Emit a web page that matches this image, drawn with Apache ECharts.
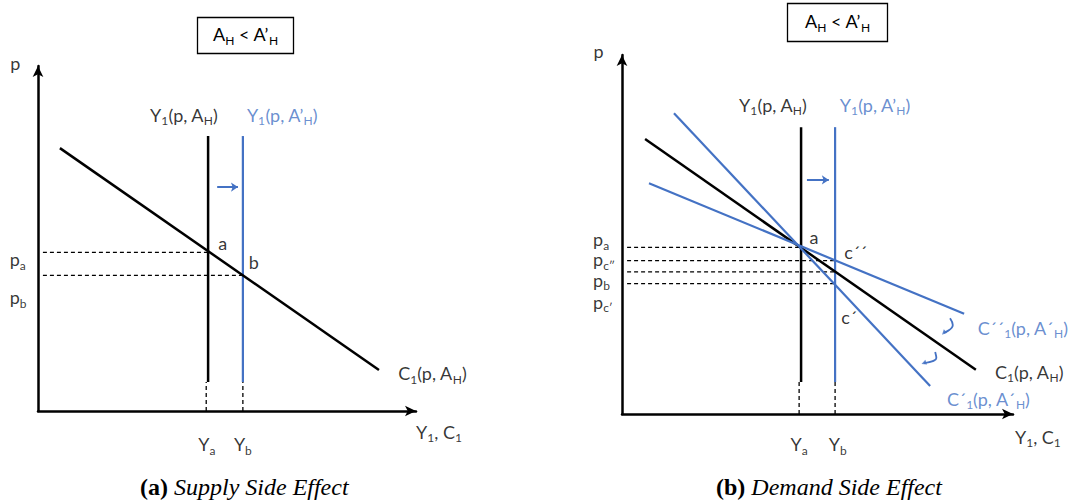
<!DOCTYPE html>
<html>
<head>
<meta charset="utf-8">
<script src="https://cdn.jsdelivr.net/npm/echarts@6/dist/echarts.min.js"></script>
<style>
  html, body { margin: 0; padding: 0; background: #fff; }
  #chart { width: 1069px; height: 503px; }
</style>
</head>
<body>
<div id="chart"></div>
<script>
// ---------- DATA (diagram units, 0..10 on each axis) ----------
// Panel (a): Supply side effect
const aY1Old      = [[4.5, 0.84], [4.5, 7.97]];      // Y1(p, A_H)
const aY1New      = [[5.42, 0.84], [5.42, 7.97]];    // Y1(p, A'_H)
const aC1         = [[0.58, 7.62], [9.02, 1.19]];    // C1(p, A_H)
const aDropYa     = [[4.45, 0], [4.45, 0.84]];
const aDropYb     = [[5.42, 0], [5.42, 0.84]];
const aLevelPa    = [[0.13, 4.6], [4.5, 4.6]];
const aLevelPb    = [[0.13, 3.93], [5.42, 3.93]];
const aShift      = [[4.74, 6.49], [5.29, 6.49]];
const aLabelPts   = [[3.86, 8.58], [6.46, 8.58], [4.89, 4.87], [5.71, 4.32], [-0.75, 4.40], [-0.75, 3.30],
                     [4.47, -0.96], [5.42, -0.96], [9.53, 1.10], [-0.6, 10.08], [10.0, -0.6]];
const aLabelTxt   = ['Y{s|1}(p, A{s|H})', 'Y{s|1}(p, A\u2019{s|H})', 'a', 'b', 'p{s|a}', 'p{s|b}',
                     'Y{s|a}', 'Y{s|b}', 'C{s|1}(p, A{s|H})', 'p', 'Y{s|1}, C{s|1}'];

// Panel (b): Demand side effect
const bY1Old      = [[4.58, 0.89], [4.58, 7.99]];
const bY1New      = [[5.45, 0.89], [5.45, 7.99]];
const bC1         = [[0.59, 7.66], [9.05, 1.23]];    // C1(p, A_H)
const bC1Steep    = [[1.33, 8.38], [7.88, 0.78]];    // C'1(p, A'_H)
const bC1Flat     = [[0.69, 6.43], [8.75, 2.79]];    // C''1(p, A'_H)
const bDropYa     = [[4.53, 0], [4.53, 0.89]];
const bDropYb     = [[5.45, 0], [5.45, 0.89]];
const bLevelPa    = [[0.13, 4.64], [4.58, 4.64]];
const bLevelPc2   = [[0.13, 4.27], [5.45, 4.27]];
const bLevelPb    = [[0.13, 3.96], [5.45, 3.96]];
const bLevelPc1   = [[0.13, 3.63], [5.45, 3.63]];
const bShift      = [[4.73, 6.52], [5.29, 6.52]];
const bTurn1      = [[8.39, 2.67], [8.46, 2.48], [8.23, 2.26]];
const bTurn2      = [[8.01, 1.73], [8.04, 1.56], [7.72, 1.42]];
const bLabelPts   = [[3.86, 8.61], [6.47, 8.61], [4.91, 4.93], [5.98, 4.51], [5.81, 2.70],
                     [-0.74, 4.87], [-0.74, 4.31], [-0.74, 3.74], [-0.74, 3.12],
                     [4.53, -0.84], [5.52, -0.84], [9.1, 2.40], [9.54, 1.17], [8.31, 0.42],
                     [-0.6, 10.12], [10.05, -0.64]];
const bLabelTxt   = ['Y{s|1}(p, A{s|H})', 'Y{s|1}(p, A\u2019{s|H})', 'a', 'c\u00b4\u00b4', 'c\u00b4',
                     'p{s|a}', 'p{s|c\u2033}', 'p{s|b}', 'p{s|c\u2032}',
                     'Y{s|a}', 'Y{s|b}', 'C\u00b4\u00b4{s|1}(p, A\u00b4{s|H})', 'C{s|1}(p, A{s|H})', 'C\u00b4{s|1}(p, A\u00b4{s|H})',
                     'p', 'Y{s|1}, C{s|1}'];
const aLabelColor = ['#000', 'blue', '#000', '#000', '#000', '#000', '#000', '#000', '#000', '#000', '#000'];
const bLabelColor = ['#000', 'blue', '#000', '#000', '#000', '#000', '#000', '#000', '#000', '#000', '#000',
                     'blue', '#000', 'blue', '#000', '#000'];
const aLabelAlign = ['center', 'center', 'center', 'center', 'left', 'left', 'center', 'center', 'left', 'center', 'left'];
const bLabelAlign = ['center', 'center', 'center', 'center', 'center', 'left', 'left', 'left', 'left',
                     'center', 'center', 'left', 'left', 'left', 'center', 'left'];

const boxText = 'A{s|H} < A\u2019{s|H}';
const captions = ['{b|(a)} {i|Supply Side Effect}', '{b|(b)} {i|Demand Side Effect}'];

// ---------- STYLE ----------
const BLUE = '#4472C4';
const FONT = 'Lato';
const rich = {
  s: { fontSize: 12, fontFamily: FONT, verticalAlign: 'bottom', lineHeight: 12, padding: [0, 0, -3, 0] }
};

function seg(data, gi, color, width, dashed, smooth) {
  return {
    type: 'line', xAxisIndex: gi, yAxisIndex: gi, data: data, symbol: 'none',
    smooth: !!smooth, silent: true, animation: false, z: dashed ? 1 : 3,
    lineStyle: { color: color, width: width, type: dashed ? [4, 3] : 'solid' }
  };
}
function arrow(data, gi) {
  return {
    type: 'lines', coordinateSystem: 'cartesian2d', xAxisIndex: gi, yAxisIndex: gi,
    symbol: ['none', 'arrow'], symbolSize: 7, silent: true, animation: false,
    lineStyle: { color: BLUE, width: 2, opacity: 1 },
    data: [{ coords: data }]
  };
}
function head(pt, rot, gi) {
  return {
    type: 'scatter', xAxisIndex: gi, yAxisIndex: gi, symbol: 'triangle', symbolSize: 5,
    symbolRotate: rot, itemStyle: { color: BLUE }, data: [pt], silent: true, animation: false, clip: false
  };
}
function labels(pts, txt, colors, aligns, gi) {
  return {
    type: 'scatter', xAxisIndex: gi, yAxisIndex: gi, symbolSize: 0, clip: false, silent: true, animation: false,
    data: pts.map((p, i) => ({
      value: p,
      label: {
        show: true, position: 'inside', formatter: txt[i], align: aligns[i], verticalAlign: 'middle',
        color: colors[i] === 'blue' ? BLUE : colors[i],
        fontFamily: FONT, fontSize: 18, lineHeight: 18, rich: rich
      }
    }))
  };
}
function axisPair(gi) {
  return {
    gridIndex: gi, type: 'value', min: 0, max: 10,
    axisLabel: { show: false }, axisTick: { show: false }, splitLine: { show: false },
    axisLine: { show: true, symbol: ['none', 'arrow'], symbolSize: [8, 11],
                lineStyle: { color: '#000', width: 2.5 } }
  };
}

const capRich = {
  b: { fontFamily: 'Liberation Serif', fontWeight: 'bold', fontSize: 24, color: '#000' },
  i: { fontFamily: 'Liberation Serif', fontStyle: 'italic', fontSize: 24, color: '#000' }
};

const chart = echarts.init(document.getElementById('chart'), null, { renderer: 'svg' });
chart.setOption({
  backgroundColor: '#fff',
  animation: false,
  title: [
    { text: boxText, left: 197, top: 17, padding: [8, 16, 8, 16], borderColor: '#000', borderWidth: 1.3,
      textStyle: { fontFamily: FONT, fontSize: 18, fontWeight: 'normal', color: '#000', lineHeight: 18, rich: rich } },
    { text: boxText, left: 787, top: 3, padding: [9, 18, 9, 18], borderColor: '#000', borderWidth: 1.3,
      textStyle: { fontFamily: FONT, fontSize: 18, fontWeight: 'normal', color: '#000', lineHeight: 18, rich: rich } },
    { text: captions[0], left: 135, top: 470,
      textStyle: { fontFamily: 'Liberation Serif', fontSize: 24, fontWeight: 'normal', color: '#000', rich: capRich } },
    { text: captions[1], left: 711, top: 470,
      textStyle: { fontFamily: 'Liberation Serif', fontSize: 24, fontWeight: 'normal', color: '#000', rich: capRich } }
  ],
  grid: [
    { left: 38, top: 66, width: 378, height: 345 },
    { left: 622, top: 55, width: 391, height: 359 }
  ],
  xAxis: [axisPair(0), axisPair(1)],
  yAxis: [axisPair(0), axisPair(1)],
  series: [
    // panel (a)
    seg(aDropYa, 0, '#000', 1.3, true),
    seg(aDropYb, 0, '#000', 1.3, true),
    seg(aLevelPa, 0, '#000', 1.3, true),
    seg(aLevelPb, 0, '#000', 1.3, true),
    seg(aY1Old, 0, '#000', 2.5),
    seg(aY1New, 0, BLUE, 2.2),
    seg(aC1, 0, '#000', 2.5),
    arrow(aShift, 0),
    labels(aLabelPts, aLabelTxt, aLabelColor, aLabelAlign, 0),
    // panel (b)
    seg(bDropYa, 1, '#000', 1.3, true),
    seg(bDropYb, 1, '#000', 1.3, true),
    seg(bLevelPa, 1, '#000', 1.3, true),
    seg(bLevelPc2, 1, '#000', 1.3, true),
    seg(bLevelPb, 1, '#000', 1.3, true),
    seg(bLevelPc1, 1, '#000', 1.3, true),
    seg(bY1Old, 1, '#000', 2.5),
    seg(bY1New, 1, BLUE, 2.2),
    seg(bC1, 1, '#000', 2.5),
    seg(bC1Steep, 1, BLUE, 2.2),
    seg(bC1Flat, 1, BLUE, 2.2),
    seg(bTurn1, 1, BLUE, 1.8, false, true),
    seg(bTurn2, 1, BLUE, 1.8, false, true),
    head(bTurn1[2], 135, 1),
    head(bTurn2[2], 110, 1),
    arrow(bShift, 1),
    labels(bLabelPts, bLabelTxt, bLabelColor, bLabelAlign, 1)
  ]
});
</script>
</body>
</html>
